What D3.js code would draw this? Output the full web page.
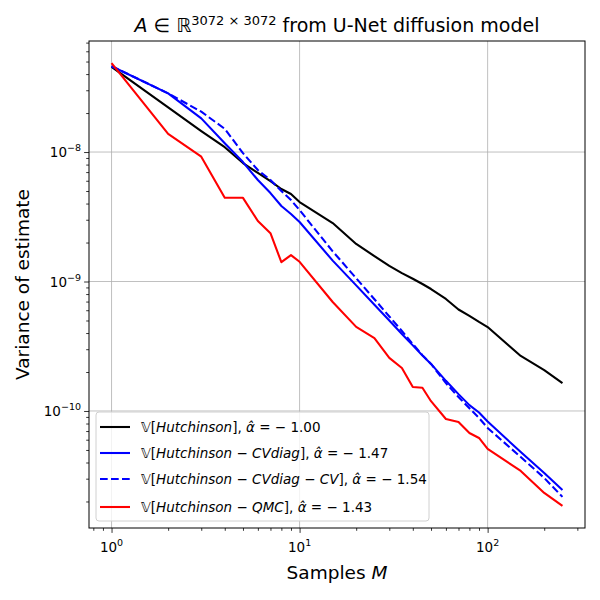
<!DOCTYPE html>
<html><head><meta charset="utf-8">
<script src="https://cdn.jsdelivr.net/npm/d3@7"></script>
<style>body{margin:0;background:#fff}svg{display:block}text{font-family:"DejaVu Sans",sans-serif}</style>
</head><body><svg id="c" width="600" height="600"></svg>
<script>
const samples = [1,2,3,4,5,6,7,8,9,10,15,20,25,30,35,40,45,50,60,70,80,90,100,150,200,250];
const hutch = [4.55e-8,2.21e-8,1.45e-8,1.09e-8,8.22e-9,6.89e-9,5.97e-9,5.18e-9,4.74e-9,4.11e-9,2.83e-9,1.95e-9,1.57e-9,1.32e-9,1.16e-9,1.05e-9,9.57e-10,8.75e-10,7.33e-10,6.08e-10,5.42e-10,4.87e-10,4.45e-10,2.66e-10,2.07e-10,1.64e-10];
const cvdiag = [4.6e-8,2.84e-8,1.82e-8,1.17e-8,8.37e-9,6.08e-9,4.82e-9,3.83e-9,3.32e-9,2.88e-9,1.45e-9,9.33e-10,6.62e-10,5.0e-10,3.93e-10,3.21e-10,2.68e-10,2.31e-10,1.71e-10,1.35e-10,1.11e-10,9.73e-11,8.29e-11,4.82e-11,3.32e-11,2.45e-11];
const cvdiagcv = [4.6e-8,2.84e-8,2.05e-8,1.51e-8,9.8e-9,7.26e-9,6.08e-9,5.0e-9,4.26e-9,3.56e-9,1.71e-9,1.06e-9,7.3e-10,5.37e-10,4.15e-10,3.29e-10,2.7e-10,2.31e-10,1.64e-10,1.28e-10,1.05e-10,8.83e-11,7.4e-11,4.41e-11,3.04e-11,2.17e-11];
const qmc = [4.86e-8,1.38e-8,9.2e-9,4.43e-9,4.43e-9,2.93e-9,2.36e-9,1.41e-9,1.60e-9,1.42e-9,6.95e-10,4.46e-10,3.66e-10,2.57e-10,2.15e-10,1.53e-10,1.51e-10,1.19e-10,8.67e-11,8.22e-11,6.76e-11,6.19e-11,5.09e-11,3.44e-11,2.33e-11,1.85e-11];
const seriesNames = ["Hutchinson", "Hutchinson − CVdiag", "Hutchinson − CVdiag − CV", "Hutchinson − QMC"];
const alphas = ["− 1.00", "− 1.47", "− 1.54", "− 1.43"];
const colors = ["#000000", "#0000ff", "#0000ff", "#ff0000"];
const dashes = [null, null, "7.7,3.3", null];
const xTicks = [1, 10, 100];
const yTicks = [1e-10, 1e-9, 1e-8];
const xTickExp = ["0", "1", "2"];
const yTickExp = ["−10", "−9", "−8"];

const svg = d3.select("#c");
const L = 89, R = 585, T = 41, B = 528;
const all = [hutch, cvdiag, cvdiagcv, qmc];

function padLog(ext) {
  const a = Math.log10(ext[0]), b = Math.log10(ext[1]), m = (b - a) * 0.05;
  return [Math.pow(10, a - m), Math.pow(10, b + m)];
}
const x = d3.scaleLog().domain(padLog(d3.extent(samples))).range([L, R]);
const y = d3.scaleLog().domain(padLog([d3.min(all.flat()), d3.max(all.flat())])).range([B, T]);

// grid
const g = svg.append("g");
xTicks.forEach(t => g.append("line").attr("x1", x(t)).attr("x2", x(t)).attr("y1", T).attr("y2", B).attr("stroke", "#b0b0b0").attr("stroke-width", 0.8));
yTicks.forEach(t => g.append("line").attr("x1", L).attr("x2", R).attr("y1", y(t)).attr("y2", y(t)).attr("stroke", "#b0b0b0").attr("stroke-width", 0.8));

// axes
const xAxis = d3.axisBottom(x).tickValues(xTicks).tickSize(4.9).tickFormat("");
const xMinor = [];
for (let d = 0.1; d < 1000; d *= 10) for (let k = 2; k <= 9; k++) { const v = d * k; if (v > x.domain()[0] && v < x.domain()[1]) xMinor.push(v); }
const yMinor = [];
for (let d = 1e-12; d < 1e-6; d *= 10) for (let k = 2; k <= 9; k++) { const v = d * k; if (v > y.domain()[0] && v < y.domain()[1]) yMinor.push(v); }

svg.append("g").attr("transform", `translate(0,${B})`).call(xAxis);
svg.append("g").attr("transform", `translate(0,${B})`).call(d3.axisBottom(x).tickValues(xMinor).tickSize(2.8).tickFormat(""));
svg.append("g").attr("transform", `translate(${L},0)`).call(d3.axisLeft(y).tickValues(yTicks).tickSize(4.9).tickFormat(""));
svg.append("g").attr("transform", `translate(${L},0)`).call(d3.axisLeft(y).tickValues(yMinor).tickSize(2.8).tickFormat(""));
svg.selectAll(".domain").remove();
svg.selectAll(".tick line").attr("stroke", "#000").attr("stroke-width", 0.8);

xTicks.forEach((t, i) => {
  const tx = svg.append("text").attr("x", x(t)).attr("y", B + 24).attr("text-anchor", "middle").attr("font-size", 13.5).attr("fill", "#000");
  tx.append("tspan").text("10");
  tx.append("tspan").attr("dy", -6).attr("font-size", 9.5).text(xTickExp[i]);
});
yTicks.forEach((t, i) => {
  const tx = svg.append("text").attr("x", L - 8).attr("y", y(t) + 5).attr("text-anchor", "end").attr("font-size", 13.5).attr("fill", "#000");
  tx.append("tspan").text("10");
  tx.append("tspan").attr("dy", -6).attr("font-size", 9.5).text(yTickExp[i]);
});

// lines
const line = d3.line().x((d, i) => x(samples[i])).y(d => y(d));
all.forEach((s, i) => {
  svg.append("path").datum(s).attr("d", line).attr("fill", "none").attr("stroke", colors[i]).attr("stroke-width", 2.08)
    .attr("stroke-dasharray", dashes[i]).attr("stroke-linejoin", "round");
});

// frame
svg.append("rect").attr("x", L).attr("y", T).attr("width", R - L).attr("height", B - T).attr("fill", "none").attr("stroke", "#000").attr("stroke-width", 1);

// legend
const lg = svg.append("g");
lg.append("rect").attr("x", 96).attr("y", 412).attr("width", 333).attr("height", 109).attr("rx", 3)
  .attr("fill", "#fff").attr("fill-opacity", 0.8).attr("stroke", "#d0d0d0").attr("stroke-width", 1);
const rowY = [427, 453, 479, 507];
seriesNames.forEach((n, i) => {
  lg.append("line").attr("x1", 100).attr("x2", 130).attr("y1", rowY[i]).attr("y2", rowY[i]).attr("stroke", colors[i]).attr("stroke-width", 2.08).attr("stroke-dasharray", dashes[i]);
  const t = lg.append("text").attr("x", 141).attr("y", rowY[i] + 5).attr("font-size", 13.5).attr("fill", "#000");
  t.append("tspan").text("𝕍[");
  n.split(" − ").forEach((p, j) => {
    if (j > 0) t.append("tspan").text(" − ");
    t.append("tspan").attr("font-style", "italic").text(p);
  });
  t.append("tspan").text("], ");
  t.append("tspan").attr("font-style", "italic").text("α̂");
  t.append("tspan").text(" = " + alphas[i]);
});

// title
const tt = svg.append("text").attr("x", 337).attr("y", 32).attr("text-anchor", "middle").attr("font-size", 19).attr("fill", "#000");
tt.append("tspan").attr("font-style", "italic").text("A");
tt.append("tspan").text(" ∈ ℝ");
tt.append("tspan").attr("dy", -7).attr("font-size", 13).text("3072 × 3072");
tt.append("tspan").attr("dy", 7).text(" from U-Net diffusion model");

// axis labels
const xl = svg.append("text").attr("x", 337).attr("y", 579).attr("text-anchor", "middle").attr("font-size", 18.5).attr("fill", "#000");
xl.append("tspan").text("Samples ");
xl.append("tspan").attr("font-style", "italic").text("M");
svg.append("text").attr("transform", `translate(29,${(T + B) / 2}) rotate(-90)`).attr("text-anchor", "middle").attr("font-size", 18.5).attr("fill", "#000").text("Variance of estimate");
</script></body></html>
